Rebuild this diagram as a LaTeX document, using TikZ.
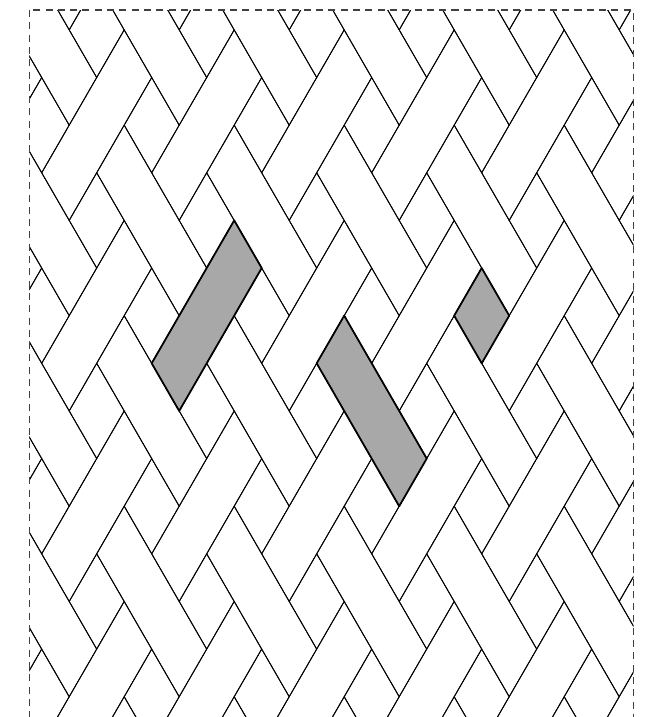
\documentclass[tikz,border=0pt]{standalone}
\usepackage{tikz}
\usetikzlibrary{calc}
\definecolor{tilegray}{gray}{0.66}

\begin{document}
\begin{tikzpicture}[
  tile/.style={draw=black, line width=0.5pt, line join=round},
  marked/.style={fill=tilegray, draw=black, line width=1pt, line join=round},
  frame/.style={draw=black!75, dash pattern=on 4pt off 3pt, line width=0.6pt}]
  \useasboundingbox (0,0) rectangle (12.9,-14.34);
  \coordinate (F1) at (0.586,-0.2);
  \coordinate (F2) at (12.666,-14.8);

  \begin{scope}
    \clip (F1) rectangle (F2);
    \begin{scope}[shift={(3.034,-7.266)}, x={(0.55cm,0.9526cm)}, y={(0.55cm,-0.9526cm)}]
      % long bars rising to the right
      \foreach \m in {-4,...,6} {
        \foreach \k in {-6,...,5} {
          \pgfmathtruncatemacro{\a}{2*\m+4*\k}
          \pgfmathtruncatemacro{\b}{2*\m}
          \draw[tile] (\a,\b) -- ++(3,0) -- ++(0,1) -- ++(-3,0) -- cycle;
        }
      }
      % long bars falling to the right
      \foreach \m in {-5,...,6} {
        \foreach \k in {-6,...,5} {
          \pgfmathtruncatemacro{\a}{2*\m+1}
          \pgfmathtruncatemacro{\b}{2*\m+1+4*\k}
          \draw[tile] (\a,\b) -- ++(1,0) -- ++(0,3) -- ++(-1,0) -- cycle;
        }
      }
      % small squares
      \foreach \m in {-4,...,6} {
        \foreach \n in {-5,...,6} {
          \pgfmathtruncatemacro{\a}{2*\m}
          \pgfmathtruncatemacro{\b}{2*\n+1}
          \draw[tile] (\a,\b) -- ++(1,0) -- ++(0,1) -- ++(-1,0) -- cycle;
        }
      }
      \draw[marked] (0,0) -- (3,0) -- (3,1) -- (0,1) -- cycle;
      \draw[marked] (3,3) -- (4,3) -- (4,6) -- (3,6) -- cycle;
      \draw[marked] (6,5) -- (7,5) -- (7,6) -- (6,6) -- cycle;
    \end{scope}
  \end{scope}

  \draw[frame] (F1) rectangle (F2);
\end{tikzpicture}
\end{document}
